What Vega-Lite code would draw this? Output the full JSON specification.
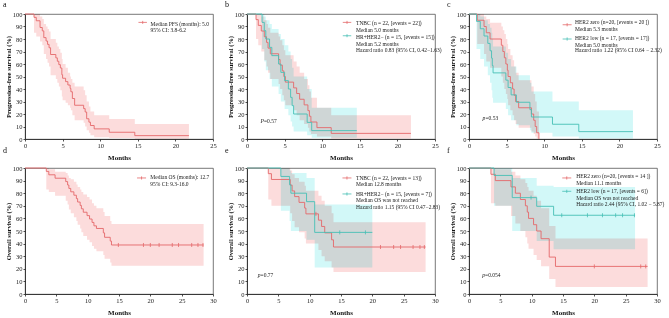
{
"$schema": "https://vega.github.io/schema/vega-lite/v6.json",
"padding": {"left": 2, "top": 0, "right": 0, "bottom": 0},
"config": {
 "font": "Liberation Serif",
 "view": {"stroke": "#555", "strokeWidth": 0.8},
 "axis": {"domainColor": "#222", "tickColor": "#222", "labelColor": "#222", "titleColor": "#111", "labelFont": "Liberation Serif", "titleFont": "Liberation Serif", "labelFontSize": 6.5, "titleFontSize": 6.5, "grid": false, "tickSize": 2, "labelPadding": 1, "titleFontWeight": "bold", "domainWidth": 0.8, "tickWidth": 0.8, "labelOverlap": false, "labelFlush": false},
 "axisX": {"titlePadding": 5, "titleFontSize": 7},
 "axisY": {"titlePadding": 1},
 "title": {"font": "Liberation Serif", "fontSize": 8, "fontWeight": "normal", "anchor": "start", "frame": "group", "dx": -22, "offset": 2.5, "baseline": "alphabetic", "color": "#111"},
 "text": {"font": "Liberation Serif", "fontSize": 5.5, "color": "#222", "align": "left", "baseline": "middle", "lineHeight": 6.8}
},
"datasets": {
 "km": [
  {"p":"a","g":"all","t":0,"s":100,"lo":100,"hi":100},
  {"p":"a","g":"all","t":1.2,"s":97.3,"lo":85,"hi":100},
  {"p":"a","g":"all","t":1.5,"s":94.6,"lo":82,"hi":100},
  {"p":"a","g":"all","t":2.0,"s":89.2,"lo":78,"hi":98},
  {"p":"a","g":"all","t":2.3,"s":86.5,"lo":75,"hi":96},
  {"p":"a","g":"all","t":2.5,"s":81.1,"lo":68,"hi":92},
  {"p":"a","g":"all","t":2.8,"s":78.4,"lo":64,"hi":90},
  {"p":"a","g":"all","t":3.0,"s":75.7,"lo":61,"hi":88},
  {"p":"a","g":"all","t":3.2,"s":73.0,"lo":58,"hi":86},
  {"p":"a","g":"all","t":3.4,"s":67.6,"lo":51,"hi":80},
  {"p":"a","g":"all","t":4.1,"s":64.9,"lo":48,"hi":77},
  {"p":"a","g":"all","t":4.3,"s":62.2,"lo":45,"hi":74},
  {"p":"a","g":"all","t":4.5,"s":59.5,"lo":42,"hi":72},
  {"p":"a","g":"all","t":4.7,"s":56.8,"lo":39,"hi":69},
  {"p":"a","g":"all","t":4.9,"s":51.4,"lo":34,"hi":64},
  {"p":"a","g":"all","t":5.0,"s":48.6,"lo":31,"hi":60},
  {"p":"a","g":"all","t":5.4,"s":45.9,"lo":29,"hi":57},
  {"p":"a","g":"all","t":5.7,"s":43.2,"lo":27,"hi":53},
  {"p":"a","g":"all","t":6.0,"s":40.5,"lo":25,"hi":50},
  {"p":"a","g":"all","t":6.1,"s":37.8,"lo":23,"hi":48},
  {"p":"a","g":"all","t":6.3,"s":32.4,"lo":19,"hi":45},
  {"p":"a","g":"all","t":6.6,"s":27.0,"lo":15,"hi":42},
  {"p":"a","g":"all","t":7.8,"s":24.3,"lo":13,"hi":39},
  {"p":"a","g":"all","t":8.0,"s":21.6,"lo":10,"hi":35},
  {"p":"a","g":"all","t":8.2,"s":16.2,"lo":7,"hi":30},
  {"p":"a","g":"all","t":8.5,"s":13.5,"lo":5,"hi":26},
  {"p":"a","g":"all","t":8.7,"s":10.8,"lo":3,"hi":22},
  {"p":"a","g":"all","t":9.2,"s":8.1,"lo":1.5,"hi":19},
  {"p":"a","g":"all","t":11.2,"s":5.4,"lo":0.8,"hi":16},
  {"p":"a","g":"all","t":14.6,"s":2.7,"lo":0.3,"hi":12},
  {"p":"a","g":"all","t":21.8,"s":2.7,"lo":0.3,"hi":12},

  {"p":"b","g":"TNBC","t":0,"s":100,"lo":100,"hi":100},
  {"p":"b","g":"TNBC","t":1.2,"s":95.5,"lo":80,"hi":100},
  {"p":"b","g":"TNBC","t":1.5,"s":90.9,"lo":75,"hi":100},
  {"p":"b","g":"TNBC","t":1.9,"s":86.4,"lo":70,"hi":98},
  {"p":"b","g":"TNBC","t":2.3,"s":81.8,"lo":63,"hi":95},
  {"p":"b","g":"TNBC","t":2.6,"s":77.3,"lo":58,"hi":92},
  {"p":"b","g":"TNBC","t":2.8,"s":72.7,"lo":53,"hi":89},
  {"p":"b","g":"TNBC","t":3.1,"s":68.2,"lo":48,"hi":85},
  {"p":"b","g":"TNBC","t":4.2,"s":63.6,"lo":44,"hi":82},
  {"p":"b","g":"TNBC","t":4.4,"s":59.1,"lo":40,"hi":79},
  {"p":"b","g":"TNBC","t":4.7,"s":54.5,"lo":35,"hi":75},
  {"p":"b","g":"TNBC","t":4.9,"s":50.0,"lo":31,"hi":71},
  {"p":"b","g":"TNBC","t":5.1,"s":45.5,"lo":27,"hi":67},
  {"p":"b","g":"TNBC","t":6.2,"s":40.9,"lo":23,"hi":62},
  {"p":"b","g":"TNBC","t":6.6,"s":36.4,"lo":19,"hi":58},
  {"p":"b","g":"TNBC","t":7.0,"s":31.8,"lo":15,"hi":53},
  {"p":"b","g":"TNBC","t":7.6,"s":27.3,"lo":12,"hi":48},
  {"p":"b","g":"TNBC","t":8.1,"s":22.7,"lo":9,"hi":43},
  {"p":"b","g":"TNBC","t":8.3,"s":18.2,"lo":6,"hi":38},
  {"p":"b","g":"TNBC","t":8.5,"s":13.6,"lo":4,"hi":33},
  {"p":"b","g":"TNBC","t":9.3,"s":9.1,"lo":2,"hi":25},
  {"p":"b","g":"TNBC","t":11.2,"s":4.5,"lo":0.5,"hi":19},
  {"p":"b","g":"TNBC","t":21.8,"s":4.5,"lo":0.5,"hi":19},
  {"p":"b","g":"HR","t":0,"s":100,"lo":100,"hi":100},
  {"p":"b","g":"HR","t":2.0,"s":93.3,"lo":72,"hi":100},
  {"p":"b","g":"HR","t":2.3,"s":86.7,"lo":62,"hi":98},
  {"p":"b","g":"HR","t":2.5,"s":80.0,"lo":55,"hi":95},
  {"p":"b","g":"HR","t":3.0,"s":73.3,"lo":48,"hi":92},
  {"p":"b","g":"HR","t":3.3,"s":66.7,"lo":42,"hi":88},
  {"p":"b","g":"HR","t":4.2,"s":60.0,"lo":36,"hi":84},
  {"p":"b","g":"HR","t":4.5,"s":53.3,"lo":30,"hi":80},
  {"p":"b","g":"HR","t":5.0,"s":46.7,"lo":24,"hi":75},
  {"p":"b","g":"HR","t":5.5,"s":40.0,"lo":19,"hi":70},
  {"p":"b","g":"HR","t":5.8,"s":33.3,"lo":14,"hi":64},
  {"p":"b","g":"HR","t":6.0,"s":26.7,"lo":10,"hi":57},
  {"p":"b","g":"HR","t":6.2,"s":20.0,"lo":6,"hi":50},
  {"p":"b","g":"HR","t":8.0,"s":13.3,"lo":3,"hi":40},
  {"p":"b","g":"HR","t":8.6,"s":6.7,"lo":1,"hi":25},
  {"p":"b","g":"HR","t":14.6,"s":6.7,"lo":1,"hi":25},

  {"p":"c","g":"Z","t":0,"s":100,"lo":100,"hi":100},
  {"p":"c","g":"Z","t":1.1,"s":95,"lo":76,"hi":100},
  {"p":"c","g":"Z","t":2.0,"s":90,"lo":68,"hi":98},
  {"p":"c","g":"Z","t":2.3,"s":85,"lo":62,"hi":96},
  {"p":"c","g":"Z","t":2.8,"s":80,"lo":57,"hi":93},
  {"p":"c","g":"Z","t":4.3,"s":75,"lo":50,"hi":90},
  {"p":"c","g":"Z","t":4.5,"s":70,"lo":45,"hi":87},
  {"p":"c","g":"Z","t":4.7,"s":65,"lo":40,"hi":84},
  {"p":"c","g":"Z","t":4.9,"s":60,"lo":36,"hi":80},
  {"p":"c","g":"Z","t":5.1,"s":55,"lo":32,"hi":76},
  {"p":"c","g":"Z","t":5.2,"s":50,"lo":27,"hi":72},
  {"p":"c","g":"Z","t":5.5,"s":45,"lo":23,"hi":67},
  {"p":"c","g":"Z","t":5.8,"s":40,"lo":19,"hi":63},
  {"p":"c","g":"Z","t":6.0,"s":35,"lo":15,"hi":58},
  {"p":"c","g":"Z","t":6.2,"s":30,"lo":12,"hi":53},
  {"p":"c","g":"Z","t":6.6,"s":25,"lo":9,"hi":47},
  {"p":"c","g":"Z","t":8.3,"s":20,"lo":6,"hi":42},
  {"p":"c","g":"Z","t":8.6,"s":15,"lo":4,"hi":36},
  {"p":"c","g":"Z","t":8.8,"s":10,"lo":2,"hi":30},
  {"p":"c","g":"Z","t":9.0,"s":5,"lo":0.5,"hi":22},
  {"p":"c","g":"Z","t":9.3,"s":0,"lo":0,"hi":0},
  {"p":"c","g":"L","t":0,"s":100,"lo":100,"hi":100},
  {"p":"c","g":"L","t":1.0,"s":94.1,"lo":72,"hi":100},
  {"p":"c","g":"L","t":1.5,"s":88.2,"lo":64,"hi":98},
  {"p":"c","g":"L","t":2.0,"s":82.4,"lo":58,"hi":95},
  {"p":"c","g":"L","t":2.5,"s":76.5,"lo":51,"hi":92},
  {"p":"c","g":"L","t":2.8,"s":70.6,"lo":45,"hi":89},
  {"p":"c","g":"L","t":3.0,"s":64.7,"lo":39,"hi":85},
  {"p":"c","g":"L","t":3.1,"s":58.8,"lo":33,"hi":80},
  {"p":"c","g":"L","t":3.2,"s":52.9,"lo":29,"hi":74},
  {"p":"c","g":"L","t":4.9,"s":47.1,"lo":24,"hi":69},
  {"p":"c","g":"L","t":5.2,"s":41.2,"lo":19,"hi":64},
  {"p":"c","g":"L","t":5.6,"s":35.3,"lo":15,"hi":58},
  {"p":"c","g":"L","t":6.3,"s":29.4,"lo":11,"hi":51},
  {"p":"c","g":"L","t":8.1,"s":23.5,"lo":7,"hi":45},
  {"p":"c","g":"L","t":8.3,"s":17.6,"lo":5,"hi":38},
  {"p":"c","g":"L","t":11.1,"s":11.8,"lo":2,"hi":30},
  {"p":"c","g":"L","t":14.6,"s":5.9,"lo":0.5,"hi":23},
  {"p":"c","g":"L","t":21.8,"s":5.9,"lo":0.5,"hi":23},

  {"p":"d","g":"all","t":0,"s":100,"lo":100,"hi":100},
  {"p":"d","g":"all","t":3.4,"s":97.3,"lo":83,"hi":100},
  {"p":"d","g":"all","t":3.8,"s":94.6,"lo":81,"hi":99},
  {"p":"d","g":"all","t":4.8,"s":91.9,"lo":78,"hi":97},
  {"p":"d","g":"all","t":6.5,"s":89.2,"lo":74,"hi":96},
  {"p":"d","g":"all","t":6.8,"s":86.5,"lo":71,"hi":94},
  {"p":"d","g":"all","t":7.0,"s":83.8,"lo":67,"hi":92},
  {"p":"d","g":"all","t":7.3,"s":81.1,"lo":64,"hi":91},
  {"p":"d","g":"all","t":7.8,"s":78.4,"lo":61,"hi":89},
  {"p":"d","g":"all","t":8.2,"s":75.7,"lo":58,"hi":87},
  {"p":"d","g":"all","t":8.4,"s":73.0,"lo":55,"hi":85},
  {"p":"d","g":"all","t":8.8,"s":70.3,"lo":52,"hi":83},
  {"p":"d","g":"all","t":9.0,"s":67.6,"lo":49,"hi":81},
  {"p":"d","g":"all","t":9.3,"s":64.9,"lo":46,"hi":79},
  {"p":"d","g":"all","t":9.9,"s":62.2,"lo":43,"hi":77},
  {"p":"d","g":"all","t":10.3,"s":59.5,"lo":41,"hi":75},
  {"p":"d","g":"all","t":10.7,"s":56.8,"lo":38,"hi":72},
  {"p":"d","g":"all","t":11.0,"s":54.1,"lo":36,"hi":70},
  {"p":"d","g":"all","t":11.4,"s":52.0,"lo":34,"hi":68},
  {"p":"d","g":"all","t":12.5,"s":48.5,"lo":31,"hi":65},
  {"p":"d","g":"all","t":12.7,"s":45.0,"lo":28,"hi":62},
  {"p":"d","g":"all","t":13.6,"s":42.0,"lo":25,"hi":58},
  {"p":"d","g":"all","t":13.8,"s":38.9,"lo":22.5,"hi":55.5},
  {"p":"d","g":"all","t":28.5,"s":38.9,"lo":22.5,"hi":55.5},

  {"p":"e","g":"TNBC","t":0,"s":100,"lo":100,"hi":100},
  {"p":"e","g":"TNBC","t":3.4,"s":95.5,"lo":75,"hi":100},
  {"p":"e","g":"TNBC","t":3.9,"s":90.9,"lo":70,"hi":100},
  {"p":"e","g":"TNBC","t":6.9,"s":86.4,"lo":64,"hi":98},
  {"p":"e","g":"TNBC","t":7.2,"s":81.8,"lo":58,"hi":95},
  {"p":"e","g":"TNBC","t":7.6,"s":77.3,"lo":53,"hi":92},
  {"p":"e","g":"TNBC","t":8.3,"s":72.7,"lo":49,"hi":89},
  {"p":"e","g":"TNBC","t":9.2,"s":68.2,"lo":44,"hi":86},
  {"p":"e","g":"TNBC","t":9.4,"s":63.6,"lo":40,"hi":82},
  {"p":"e","g":"TNBC","t":11.4,"s":58.6,"lo":35,"hi":78},
  {"p":"e","g":"TNBC","t":11.9,"s":53.6,"lo":30,"hi":74},
  {"p":"e","g":"TNBC","t":12.4,"s":48.5,"lo":26,"hi":70},
  {"p":"e","g":"TNBC","t":13.5,"s":43.0,"lo":21,"hi":64},
  {"p":"e","g":"TNBC","t":13.8,"s":37.3,"lo":17.5,"hi":57},
  {"p":"e","g":"TNBC","t":28.5,"s":37.3,"lo":17.5,"hi":57},
  {"p":"e","g":"HR","t":0,"s":100,"lo":100,"hi":100},
  {"p":"e","g":"HR","t":5.4,"s":93.3,"lo":66,"hi":100},
  {"p":"e","g":"HR","t":6.8,"s":86.7,"lo":58,"hi":98},
  {"p":"e","g":"HR","t":7.0,"s":80.0,"lo":50,"hi":96},
  {"p":"e","g":"HR","t":9.5,"s":73.3,"lo":43,"hi":92},
  {"p":"e","g":"HR","t":10.8,"s":48.9,"lo":21,"hi":71},
  {"p":"e","g":"HR","t":20.0,"s":48.9,"lo":21,"hi":71},

  {"p":"f","g":"Z","t":0,"s":100,"lo":100,"hi":100},
  {"p":"f","g":"Z","t":3.5,"s":95,"lo":72,"hi":100},
  {"p":"f","g":"Z","t":4.2,"s":90,"lo":70,"hi":99},
  {"p":"f","g":"Z","t":6.7,"s":85,"lo":62,"hi":97},
  {"p":"f","g":"Z","t":7.4,"s":80,"lo":56,"hi":94},
  {"p":"f","g":"Z","t":8.2,"s":75,"lo":50,"hi":91},
  {"p":"f","g":"Z","t":9.0,"s":70,"lo":45,"hi":88},
  {"p":"f","g":"Z","t":9.3,"s":65,"lo":40,"hi":85},
  {"p":"f","g":"Z","t":9.5,"s":60,"lo":36,"hi":82},
  {"p":"f","g":"Z","t":10.3,"s":55,"lo":31,"hi":78},
  {"p":"f","g":"Z","t":10.8,"s":50,"lo":27,"hi":74},
  {"p":"f","g":"Z","t":11.5,"s":43.9,"lo":22,"hi":68},
  {"p":"f","g":"Z","t":12.8,"s":29.3,"lo":12,"hi":54},
  {"p":"f","g":"Z","t":13.8,"s":21.9,"lo":5.5,"hi":44},
  {"p":"f","g":"Z","t":28.5,"s":21.9,"lo":5.5,"hi":44},
  {"p":"f","g":"L","t":0,"s":100,"lo":100,"hi":100},
  {"p":"f","g":"L","t":4.0,"s":94.1,"lo":70,"hi":100},
  {"p":"f","g":"L","t":6.9,"s":76.5,"lo":50,"hi":92},
  {"p":"f","g":"L","t":10.8,"s":69.6,"lo":42,"hi":86},
  {"p":"f","g":"L","t":13.5,"s":62.5,"lo":35.5,"hi":85},
  {"p":"f","g":"L","t":26.5,"s":62.5,"lo":35.5,"hi":85}
 ],
 "cens": [
  {"p":"d","g":"all","t":14.9,"s":38.9},{"p":"d","g":"all","t":18.9,"s":38.9},{"p":"d","g":"all","t":20.0,"s":38.9},{"p":"d","g":"all","t":21.4,"s":38.9},{"p":"d","g":"all","t":23.5,"s":38.9},{"p":"d","g":"all","t":24.5,"s":38.9},{"p":"d","g":"all","t":26.6,"s":38.9},{"p":"d","g":"all","t":27.6,"s":38.9},{"p":"d","g":"all","t":28.4,"s":38.9},
  {"p":"e","g":"TNBC","t":11.0,"s":63.6},{"p":"e","g":"TNBC","t":21.3,"s":37.3},{"p":"e","g":"TNBC","t":23.4,"s":37.3},{"p":"e","g":"TNBC","t":24.5,"s":37.3},{"p":"e","g":"TNBC","t":26.5,"s":37.3},{"p":"e","g":"TNBC","t":27.6,"s":37.3},{"p":"e","g":"TNBC","t":28.3,"s":37.3},
  {"p":"e","g":"HR","t":14.8,"s":48.9},{"p":"e","g":"HR","t":18.9,"s":48.9},
  {"p":"f","g":"Z","t":20.0,"s":21.9},{"p":"f","g":"Z","t":27.4,"s":21.9},{"p":"f","g":"Z","t":28.2,"s":21.9},
  {"p":"f","g":"L","t":9.9,"s":76.5},{"p":"f","g":"L","t":14.8,"s":62.5},{"p":"f","g":"L","t":18.9,"s":62.5},{"p":"f","g":"L","t":21.3,"s":62.5},{"p":"f","g":"L","t":23.4,"s":62.5},{"p":"f","g":"L","t":24.5,"s":62.5},{"p":"f","g":"L","t":26.4,"s":62.5}
 ]
},
"columns": 3,
"spacing": {"row": 29, "column": 34},
"bounds": "flush",
"concat": [
 {"title": "a", "width": 188, "height": 125, "layer": [
  {"data": {"name": "km"}, "transform": [{"filter": "datum.p === 'a'"}], "mark": {"type": "area", "interpolate": "step-after", "blend": "multiply", "opacity": 1},
   "encoding": {"x": {"field": "t", "type": "quantitative", "scale": {"domain": [0, 25], "nice": false}, "axis": {"values": [0,5,10,15,20,25], "labelOverlap": false}, "title": "Months"},
    "y": {"field": "lo", "type": "quantitative", "scale": {"domain": [0, 100], "nice": false}, "axis": {"values": [0,10,20,30,40,50,60,70,80,90,100], "labelOverlap": false}, "title": "Progression-free survival (%)"},
    "y2": {"field": "hi"},
    "fill": {"field": "g", "type": "nominal", "scale": {"domain": ["all","TNBC","HR","Z","L"], "range": ["#fcdcdc","#fcdcdc","#d2f8f8","#fcdcdc","#d2f8f8"]}, "legend": null}}},
  {"data": {"name": "km"}, "transform": [{"filter": "datum.p === 'a'"}], "mark": {"type": "line", "interpolate": "step-after", "strokeWidth": 0.9},
   "encoding": {"x": {"field": "t", "type": "quantitative", "axis": {"values": [0,5,10,15,20,25], "labelOverlap": false}, "title": "Months"}, "y": {"field": "s", "type": "quantitative", "axis": {"values": [0,10,20,30,40,50,60,70,80,90,100], "labelOverlap": false}, "title": "Progression-free survival (%)"},
    "stroke": {"field": "g", "type": "nominal", "scale": {"domain": ["all","TNBC","HR","Z","L"], "range": ["#e4686a","#e4686a","#46bfb5","#e4686a","#46bfb5"]}, "legend": null}}},
  {"data": {"values": [{}]}, "mark": {"type": "point", "shape": "M-1,0L1,0M0,-0.35L0,0.35", "size": 72, "filled": false, "stroke": "#e4686a", "strokeWidth": 0.8, "opacity": 1}, "encoding": {"x": {"datum": 15.65, "axis": {"values": [0,5,10,15,20,25], "labelOverlap": false}, "title": "Months"}, "y": {"datum": 93.3, "axis": {"values": [0,10,20,30,40,50,60,70,80,90,100], "labelOverlap": false}, "title": "Progression-free survival (%)"}}},
  {"data": {"values": [{}]}, "mark": {"type": "text"}, "encoding": {"x": {"datum": 16.7, "axis": {"values": [0,5,10,15,20,25], "labelOverlap": false}, "title": "Months"}, "y": {"datum": 92.3, "axis": {"values": [0,10,20,30,40,50,60,70,80,90,100], "labelOverlap": false}, "title": "Progression-free survival (%)"}, "text": {"value": ["Median PFS (months): 5.0", "95% CI: 3.8-6.2"]}}}
 ]},
 {"title": "b", "width": 188, "height": 125, "layer": [
  {"data": {"name": "km"}, "transform": [{"filter": "datum.p === 'b'"}], "mark": {"type": "area", "interpolate": "step-after", "blend": "multiply", "opacity": 1},
   "encoding": {"x": {"field": "t", "type": "quantitative", "scale": {"domain": [0, 25], "nice": false}, "axis": {"values": [0,5,10,15,20,25], "labelOverlap": false}, "title": "Months"},
    "y": {"field": "lo", "type": "quantitative", "scale": {"domain": [0, 100], "nice": false}, "axis": {"values": [0,10,20,30,40,50,60,70,80,90,100], "labelOverlap": false}, "title": "Progression-free  survival (%)"},
    "y2": {"field": "hi"},
    "fill": {"field": "g", "type": "nominal", "scale": {"domain": ["all","TNBC","HR","Z","L"], "range": ["#fcdcdc","#fcdcdc","#d2f8f8","#fcdcdc","#d2f8f8"]}, "legend": null}}},
  {"data": {"name": "km"}, "transform": [{"filter": "datum.p === 'b'"}], "mark": {"type": "line", "interpolate": "step-after", "strokeWidth": 0.9},
   "encoding": {"x": {"field": "t", "type": "quantitative", "axis": {"values": [0,5,10,15,20,25], "labelOverlap": false}, "title": "Months"}, "y": {"field": "s", "type": "quantitative", "axis": {"values": [0,10,20,30,40,50,60,70,80,90,100], "labelOverlap": false}, "title": "Progression-free  survival (%)"},
    "stroke": {"field": "g", "type": "nominal", "scale": {"domain": ["all","TNBC","HR","Z","L"], "range": ["#e4686a","#e4686a","#46bfb5","#e4686a","#46bfb5"]}, "legend": null}}},
  {"data": {"values": [{}]}, "mark": {"type": "point", "shape": "M-1,0L1,0M0,-0.35L0,0.35", "size": 72, "filled": false, "stroke": "#e4686a", "strokeWidth": 0.8, "opacity": 1}, "encoding": {"x": {"datum": 13.3, "axis": {"values": [0,5,10,15,20,25], "labelOverlap": false}, "title": "Months"}, "y": {"datum": 93.3, "axis": {"values": [0,10,20,30,40,50,60,70,80,90,100], "labelOverlap": false}, "title": "Progression-free  survival (%)"}}},
  {"data": {"values": [{}]}, "mark": {"type": "point", "shape": "M-1,0L1,0M0,-0.35L0,0.35", "size": 72, "filled": false, "stroke": "#46bfb5", "strokeWidth": 0.8, "opacity": 1}, "encoding": {"x": {"datum": 13.3, "axis": {"values": [0,5,10,15,20,25], "labelOverlap": false}, "title": "Months"}, "y": {"datum": 82.6, "axis": {"values": [0,10,20,30,40,50,60,70,80,90,100], "labelOverlap": false}, "title": "Progression-free  survival (%)"}}},
  {"data": {"values": [{}]}, "mark": {"type": "text"}, "encoding": {"x": {"datum": 14.5, "axis": {"values": [0,5,10,15,20,25], "labelOverlap": false}, "title": "Months"}, "y": {"datum": 92.9, "axis": {"values": [0,10,20,30,40,50,60,70,80,90,100], "labelOverlap": false}, "title": "Progression-free  survival (%)"}, "text": {"value": ["TNBC (n = 22, [events = 22])", "Median 5.0 months"]}}},
  {"data": {"values": [{}]}, "mark": {"type": "text"}, "encoding": {"x": {"datum": 14.5, "axis": {"values": [0,5,10,15,20,25], "labelOverlap": false}, "title": "Months"}, "y": {"datum": 81.4, "axis": {"values": [0,10,20,30,40,50,60,70,80,90,100], "labelOverlap": false}, "title": "Progression-free  survival (%)"}, "text": {"value": ["HR+HER2− (n = 15, [events = 15])", "Median 5.2 months"]}}},
  {"data": {"values": [{}]}, "mark": {"type": "text"}, "encoding": {"x": {"datum": 14.5, "axis": {"values": [0,5,10,15,20,25], "labelOverlap": false}, "title": "Months"}, "y": {"datum": 70.9, "axis": {"values": [0,10,20,30,40,50,60,70,80,90,100], "labelOverlap": false}, "title": "Progression-free  survival (%)"}, "text": {"value": "Hazard ratio 0.83 (95% CI, 0.42−1.63)"}}},
  {"data": {"values": [{}]}, "mark": {"type": "text", "fontStyle": "italic"}, "encoding": {"x": {"datum": 1.8, "axis": {"values": [0,5,10,15,20,25], "labelOverlap": false}, "title": "Months"}, "y": {"datum": 14.1, "axis": {"values": [0,10,20,30,40,50,60,70,80,90,100], "labelOverlap": false}, "title": "Progression-free  survival (%)"}, "text": {"value": "P"}}},
  {"data": {"values": [{}]}, "mark": {"type": "text", "dx": 3.4}, "encoding": {"x": {"datum": 1.8, "axis": {"values": [0,5,10,15,20,25], "labelOverlap": false}, "title": "Months"}, "y": {"datum": 14.1, "axis": {"values": [0,10,20,30,40,50,60,70,80,90,100], "labelOverlap": false}, "title": "Progression-free  survival (%)"}, "text": {"value": "=0.57"}}}
 ]},
 {"title": "c", "width": 188, "height": 125, "layer": [
  {"data": {"name": "km"}, "transform": [{"filter": "datum.p === 'c'"}], "mark": {"type": "area", "interpolate": "step-after", "blend": "multiply", "opacity": 1},
   "encoding": {"x": {"field": "t", "type": "quantitative", "scale": {"domain": [0, 25], "nice": false}, "axis": {"values": [0,5,10,15,20,25], "labelOverlap": false}, "title": "Months"},
    "y": {"field": "lo", "type": "quantitative", "scale": {"domain": [0, 100], "nice": false}, "axis": {"values": [0,10,20,30,40,50,60,70,80,90,100], "labelOverlap": false}, "title": "Progression-free  survival (%)"},
    "y2": {"field": "hi"},
    "fill": {"field": "g", "type": "nominal", "scale": {"domain": ["all","TNBC","HR","Z","L"], "range": ["#fcdcdc","#fcdcdc","#d2f8f8","#fcdcdc","#d2f8f8"]}, "legend": null}}},
  {"data": {"name": "km"}, "transform": [{"filter": "datum.p === 'c'"}], "mark": {"type": "line", "interpolate": "step-after", "strokeWidth": 0.9},
   "encoding": {"x": {"field": "t", "type": "quantitative", "axis": {"values": [0,5,10,15,20,25], "labelOverlap": false}, "title": "Months"}, "y": {"field": "s", "type": "quantitative", "axis": {"values": [0,10,20,30,40,50,60,70,80,90,100], "labelOverlap": false}, "title": "Progression-free  survival (%)"},
    "stroke": {"field": "g", "type": "nominal", "scale": {"domain": ["all","TNBC","HR","Z","L"], "range": ["#e4686a","#e4686a","#46bfb5","#e4686a","#46bfb5"]}, "legend": null}}},
  {"data": {"values": [{}]}, "mark": {"type": "point", "shape": "M-1,0L1,0M0,-0.35L0,0.35", "size": 81, "filled": false, "stroke": "#e4686a", "strokeWidth": 0.8, "opacity": 1}, "encoding": {"x": {"datum": 13.05, "axis": {"values": [0,5,10,15,20,25], "labelOverlap": false}, "title": "Months"}, "y": {"datum": 91.4, "axis": {"values": [0,10,20,30,40,50,60,70,80,90,100], "labelOverlap": false}, "title": "Progression-free  survival (%)"}}},
  {"data": {"values": [{}]}, "mark": {"type": "point", "shape": "M-1,0L1,0M0,-0.35L0,0.35", "size": 81, "filled": false, "stroke": "#46bfb5", "strokeWidth": 0.8, "opacity": 1}, "encoding": {"x": {"datum": 13.05, "axis": {"values": [0,5,10,15,20,25], "labelOverlap": false}, "title": "Months"}, "y": {"datum": 80, "axis": {"values": [0,10,20,30,40,50,60,70,80,90,100], "labelOverlap": false}, "title": "Progression-free  survival (%)"}}},
  {"data": {"values": [{}]}, "mark": {"type": "text"}, "encoding": {"x": {"datum": 14.1, "axis": {"values": [0,5,10,15,20,25], "labelOverlap": false}, "title": "Months"}, "y": {"datum": 93.3, "axis": {"values": [0,10,20,30,40,50,60,70,80,90,100], "labelOverlap": false}, "title": "Progression-free  survival (%)"}, "text": {"value": ["HER2 zero (n=20, [events = 20 ])", "Median 5.3 months"]}}},
  {"data": {"values": [{}]}, "mark": {"type": "text"}, "encoding": {"x": {"datum": 14.1, "axis": {"values": [0,5,10,15,20,25], "labelOverlap": false}, "title": "Months"}, "y": {"datum": 81, "axis": {"values": [0,10,20,30,40,50,60,70,80,90,100], "labelOverlap": false}, "title": "Progression-free  survival (%)"}, "text": {"value": ["HER2 low (n = 17, [events = 17])", "Median 5.0 months"]}}},
  {"data": {"values": [{}]}, "mark": {"type": "text"}, "encoding": {"x": {"datum": 14.1, "axis": {"values": [0,5,10,15,20,25], "labelOverlap": false}, "title": "Months"}, "y": {"datum": 70.9, "axis": {"values": [0,10,20,30,40,50,60,70,80,90,100], "labelOverlap": false}, "title": "Progression-free  survival (%)"}, "text": {"value": "Hazard ratio 1.22 (95% CI 0.64 − 2.32)"}}},
  {"data": {"values": [{}]}, "mark": {"type": "text", "fontStyle": "italic"}, "encoding": {"x": {"datum": 1.8, "axis": {"values": [0,5,10,15,20,25], "labelOverlap": false}, "title": "Months"}, "y": {"datum": 16.8, "axis": {"values": [0,10,20,30,40,50,60,70,80,90,100], "labelOverlap": false}, "title": "Progression-free  survival (%)"}, "text": {"value": "p"}}},
  {"data": {"values": [{}]}, "mark": {"type": "text", "dx": 2.9}, "encoding": {"x": {"datum": 1.8, "axis": {"values": [0,5,10,15,20,25], "labelOverlap": false}, "title": "Months"}, "y": {"datum": 16.8, "axis": {"values": [0,10,20,30,40,50,60,70,80,90,100], "labelOverlap": false}, "title": "Progression-free  survival (%)"}, "text": {"value": "=0.53"}}}
 ]},
 {"title": {"text": "d", "offset": 10.5}, "width": 188, "height": 126, "layer": [
  {"data": {"name": "km"}, "transform": [{"filter": "datum.p === 'd'"}], "mark": {"type": "area", "interpolate": "step-after", "blend": "multiply", "opacity": 1},
   "encoding": {"x": {"field": "t", "type": "quantitative", "scale": {"domain": [0, 30], "nice": false}, "axis": {"values": [0,5,10,15,20,25,30], "labelOverlap": false}, "title": "Months"},
    "y": {"field": "lo", "type": "quantitative", "scale": {"domain": [0, 100], "nice": false}, "axis": {"values": [0,10,20,30,40,50,60,70,80,90,100], "labelOverlap": false}, "title": "Overall survival (%)"},
    "y2": {"field": "hi"},
    "fill": {"field": "g", "type": "nominal", "scale": {"domain": ["all","TNBC","HR","Z","L"], "range": ["#fcdcdc","#fcdcdc","#d2f8f8","#fcdcdc","#d2f8f8"]}, "legend": null}}},
  {"data": {"name": "km"}, "transform": [{"filter": "datum.p === 'd'"}], "mark": {"type": "line", "interpolate": "step-after", "strokeWidth": 0.9},
   "encoding": {"x": {"field": "t", "type": "quantitative", "axis": {"values": [0,5,10,15,20,25,30], "labelOverlap": false}, "title": "Months"}, "y": {"field": "s", "type": "quantitative", "axis": {"values": [0,10,20,30,40,50,60,70,80,90,100], "labelOverlap": false}, "title": "Overall survival (%)"},
    "stroke": {"field": "g", "type": "nominal", "scale": {"domain": ["all","TNBC","HR","Z","L"], "range": ["#e4686a","#e4686a","#46bfb5","#e4686a","#46bfb5"]}, "legend": null}}},
  {"data": {"name": "cens"}, "transform": [{"filter": "datum.p === 'd'"}], "mark": {"type": "point", "shape": "M0,-1L0,1", "size": 16, "filled": false, "strokeWidth": 0.8, "opacity": 1},
   "encoding": {"x": {"field": "t", "type": "quantitative", "axis": {"values": [0,5,10,15,20,25,30], "labelOverlap": false}, "title": "Months"}, "y": {"field": "s", "type": "quantitative", "axis": {"values": [0,10,20,30,40,50,60,70,80,90,100], "labelOverlap": false}, "title": "Overall survival (%)"},
    "stroke": {"field": "g", "type": "nominal", "scale": {"domain": ["all","TNBC","HR","Z","L"], "range": ["#e4686a","#e4686a","#46bfb5","#e4686a","#46bfb5"]}, "legend": null}}},
  {"data": {"values": [{}]}, "mark": {"type": "point", "shape": "M-1,0L1,0M0,-0.35L0,0.35", "size": 81, "filled": false, "stroke": "#e4686a", "strokeWidth": 0.8, "opacity": 1}, "encoding": {"x": {"datum": 18.6, "axis": {"values": [0,5,10,15,20,25,30], "labelOverlap": false}, "title": "Months"}, "y": {"datum": 92.1, "axis": {"values": [0,10,20,30,40,50,60,70,80,90,100], "labelOverlap": false}, "title": "Overall survival (%)"}}},
  {"data": {"values": [{}]}, "mark": {"type": "text"}, "encoding": {"x": {"datum": 20.0, "axis": {"values": [0,5,10,15,20,25,30], "labelOverlap": false}, "title": "Months"}, "y": {"datum": 92.85, "axis": {"values": [0,10,20,30,40,50,60,70,80,90,100], "labelOverlap": false}, "title": "Overall survival (%)"}, "text": {"value": ["Median OS (months): 12.7", "95% CI: 9.3-16.0"]}}}
 ]},
 {"title": {"text": "e", "offset": 10.5}, "width": 188, "height": 126, "layer": [
  {"data": {"name": "km"}, "transform": [{"filter": "datum.p === 'e'"}], "mark": {"type": "area", "interpolate": "step-after", "blend": "multiply", "opacity": 1},
   "encoding": {"x": {"field": "t", "type": "quantitative", "scale": {"domain": [0, 30], "nice": false}, "axis": {"values": [0,5,10,15,20,25,30], "labelOverlap": false}, "title": "Months"},
    "y": {"field": "lo", "type": "quantitative", "scale": {"domain": [0, 100], "nice": false}, "axis": {"values": [0,10,20,30,40,50,60,70,80,90,100], "labelOverlap": false}, "title": "Overall survival (%)"},
    "y2": {"field": "hi"},
    "fill": {"field": "g", "type": "nominal", "scale": {"domain": ["all","TNBC","HR","Z","L"], "range": ["#fcdcdc","#fcdcdc","#d2f8f8","#fcdcdc","#d2f8f8"]}, "legend": null}}},
  {"data": {"name": "km"}, "transform": [{"filter": "datum.p === 'e'"}], "mark": {"type": "line", "interpolate": "step-after", "strokeWidth": 0.9},
   "encoding": {"x": {"field": "t", "type": "quantitative", "axis": {"values": [0,5,10,15,20,25,30], "labelOverlap": false}, "title": "Months"}, "y": {"field": "s", "type": "quantitative", "axis": {"values": [0,10,20,30,40,50,60,70,80,90,100], "labelOverlap": false}, "title": "Overall survival (%)"},
    "stroke": {"field": "g", "type": "nominal", "scale": {"domain": ["all","TNBC","HR","Z","L"], "range": ["#e4686a","#e4686a","#46bfb5","#e4686a","#46bfb5"]}, "legend": null}}},
  {"data": {"name": "cens"}, "transform": [{"filter": "datum.p === 'e'"}], "mark": {"type": "point", "shape": "M0,-1L0,1", "size": 16, "filled": false, "strokeWidth": 0.8, "opacity": 1},
   "encoding": {"x": {"field": "t", "type": "quantitative", "axis": {"values": [0,5,10,15,20,25,30], "labelOverlap": false}, "title": "Months"}, "y": {"field": "s", "type": "quantitative", "axis": {"values": [0,10,20,30,40,50,60,70,80,90,100], "labelOverlap": false}, "title": "Overall survival (%)"},
    "stroke": {"field": "g", "type": "nominal", "scale": {"domain": ["all","TNBC","HR","Z","L"], "range": ["#e4686a","#e4686a","#46bfb5","#e4686a","#46bfb5"]}, "legend": null}}},
  {"data": {"values": [{}]}, "mark": {"type": "point", "shape": "M-1,0L1,0M0,-0.35L0,0.35", "size": 81, "filled": false, "stroke": "#e4686a", "strokeWidth": 0.8, "opacity": 1}, "encoding": {"x": {"datum": 15.95, "axis": {"values": [0,5,10,15,20,25,30], "labelOverlap": false}, "title": "Months"}, "y": {"datum": 92.1, "axis": {"values": [0,10,20,30,40,50,60,70,80,90,100], "labelOverlap": false}, "title": "Overall survival (%)"}}},
  {"data": {"values": [{}]}, "mark": {"type": "point", "shape": "M-1,0L1,0M0,-0.35L0,0.35", "size": 81, "filled": false, "stroke": "#46bfb5", "strokeWidth": 0.8, "opacity": 1}, "encoding": {"x": {"datum": 15.95, "axis": {"values": [0,5,10,15,20,25,30], "labelOverlap": false}, "title": "Months"}, "y": {"datum": 79.4, "axis": {"values": [0,10,20,30,40,50,60,70,80,90,100], "labelOverlap": false}, "title": "Overall survival (%)"}}},
  {"data": {"values": [{}]}, "mark": {"type": "text"}, "encoding": {"x": {"datum": 17.4, "axis": {"values": [0,5,10,15,20,25,30], "labelOverlap": false}, "title": "Months"}, "y": {"datum": 92.3, "axis": {"values": [0,10,20,30,40,50,60,70,80,90,100], "labelOverlap": false}, "title": "Overall survival (%)"}, "text": {"value": ["TNBC (n = 22, [events = 13])", "Median 12.8 months"]}}},
  {"data": {"values": [{}]}, "mark": {"type": "text"}, "encoding": {"x": {"datum": 17.4, "axis": {"values": [0,5,10,15,20,25,30], "labelOverlap": false}, "title": "Months"}, "y": {"datum": 79.65, "axis": {"values": [0,10,20,30,40,50,60,70,80,90,100], "labelOverlap": false}, "title": "Overall survival (%)"}, "text": {"value": ["HR+HER2− (n = 15, [events = 7])", "Median OS was not reached"]}}},
  {"data": {"values": [{}]}, "mark": {"type": "text"}, "encoding": {"x": {"datum": 17.4, "axis": {"values": [0,5,10,15,20,25,30], "labelOverlap": false}, "title": "Months"}, "y": {"datum": 69.3, "axis": {"values": [0,10,20,30,40,50,60,70,80,90,100], "labelOverlap": false}, "title": "Overall survival (%)"}, "text": {"value": "Hazard ratio 1.15 (95% CI 0.47−2.83)"}}},
  {"data": {"values": [{}]}, "mark": {"type": "text", "fontStyle": "italic"}, "encoding": {"x": {"datum": 1.7, "axis": {"values": [0,5,10,15,20,25,30], "labelOverlap": false}, "title": "Months"}, "y": {"datum": 14.8, "axis": {"values": [0,10,20,30,40,50,60,70,80,90,100], "labelOverlap": false}, "title": "Overall survival (%)"}, "text": {"value": "p"}}},
  {"data": {"values": [{}]}, "mark": {"type": "text", "dx": 2.9}, "encoding": {"x": {"datum": 1.7, "axis": {"values": [0,5,10,15,20,25,30], "labelOverlap": false}, "title": "Months"}, "y": {"datum": 14.8, "axis": {"values": [0,10,20,30,40,50,60,70,80,90,100], "labelOverlap": false}, "title": "Overall survival (%)"}, "text": {"value": "=0.77"}}}
 ]},
 {"title": {"text": "f", "offset": 10.5}, "width": 188, "height": 126, "layer": [
  {"data": {"name": "km"}, "transform": [{"filter": "datum.p === 'f'"}], "mark": {"type": "area", "interpolate": "step-after", "blend": "multiply", "opacity": 1},
   "encoding": {"x": {"field": "t", "type": "quantitative", "scale": {"domain": [0, 30], "nice": false}, "axis": {"values": [0,5,10,15,20,25,30], "labelOverlap": false}, "title": "Months"},
    "y": {"field": "lo", "type": "quantitative", "scale": {"domain": [0, 100], "nice": false}, "axis": {"values": [0,10,20,30,40,50,60,70,80,90,100], "labelOverlap": false}, "title": "Overall  survival (%)"},
    "y2": {"field": "hi"},
    "fill": {"field": "g", "type": "nominal", "scale": {"domain": ["all","TNBC","HR","Z","L"], "range": ["#fcdcdc","#fcdcdc","#d2f8f8","#fcdcdc","#d2f8f8"]}, "legend": null}}},
  {"data": {"name": "km"}, "transform": [{"filter": "datum.p === 'f'"}], "mark": {"type": "line", "interpolate": "step-after", "strokeWidth": 0.9},
   "encoding": {"x": {"field": "t", "type": "quantitative", "axis": {"values": [0,5,10,15,20,25,30], "labelOverlap": false}, "title": "Months"}, "y": {"field": "s", "type": "quantitative", "axis": {"values": [0,10,20,30,40,50,60,70,80,90,100], "labelOverlap": false}, "title": "Overall  survival (%)"},
    "stroke": {"field": "g", "type": "nominal", "scale": {"domain": ["all","TNBC","HR","Z","L"], "range": ["#e4686a","#e4686a","#46bfb5","#e4686a","#46bfb5"]}, "legend": null}}},
  {"data": {"name": "cens"}, "transform": [{"filter": "datum.p === 'f'"}], "mark": {"type": "point", "shape": "M0,-1L0,1", "size": 16, "filled": false, "strokeWidth": 0.8, "opacity": 1},
   "encoding": {"x": {"field": "t", "type": "quantitative", "axis": {"values": [0,5,10,15,20,25,30], "labelOverlap": false}, "title": "Months"}, "y": {"field": "s", "type": "quantitative", "axis": {"values": [0,10,20,30,40,50,60,70,80,90,100], "labelOverlap": false}, "title": "Overall  survival (%)"},
    "stroke": {"field": "g", "type": "nominal", "scale": {"domain": ["all","TNBC","HR","Z","L"], "range": ["#e4686a","#e4686a","#46bfb5","#e4686a","#46bfb5"]}, "legend": null}}},
  {"data": {"values": [{}]}, "mark": {"type": "point", "shape": "M-1,0L1,0M0,-0.35L0,0.35", "size": 81, "filled": false, "stroke": "#e4686a", "strokeWidth": 0.8, "opacity": 1}, "encoding": {"x": {"datum": 15.6, "axis": {"values": [0,5,10,15,20,25,30], "labelOverlap": false}, "title": "Months"}, "y": {"datum": 92.1, "axis": {"values": [0,10,20,30,40,50,60,70,80,90,100], "labelOverlap": false}, "title": "Overall  survival (%)"}}},
  {"data": {"values": [{}]}, "mark": {"type": "point", "shape": "M-1,0L1,0M0,-0.35L0,0.35", "size": 81, "filled": false, "stroke": "#46bfb5", "strokeWidth": 0.8, "opacity": 1}, "encoding": {"x": {"datum": 15.6, "axis": {"values": [0,5,10,15,20,25,30], "labelOverlap": false}, "title": "Months"}, "y": {"datum": 81.5, "axis": {"values": [0,10,20,30,40,50,60,70,80,90,100], "labelOverlap": false}, "title": "Overall  survival (%)"}}},
  {"data": {"values": [{}]}, "mark": {"type": "text"}, "encoding": {"x": {"datum": 17.1, "axis": {"values": [0,5,10,15,20,25,30], "labelOverlap": false}, "title": "Months"}, "y": {"datum": 93.65, "axis": {"values": [0,10,20,30,40,50,60,70,80,90,100], "labelOverlap": false}, "title": "Overall  survival (%)"}, "text": {"value": ["HER2 zero (n=20, [events = 14 ])", "Median 11.1 months"]}}},
  {"data": {"values": [{}]}, "mark": {"type": "text"}, "encoding": {"x": {"datum": 17.1, "axis": {"values": [0,5,10,15,20,25,30], "labelOverlap": false}, "title": "Months"}, "y": {"datum": 81.45, "axis": {"values": [0,10,20,30,40,50,60,70,80,90,100], "labelOverlap": false}, "title": "Overall  survival (%)"}, "text": {"value": ["HER2 low (n = 17, [events = 6])", "Median OS was not reached"]}}},
  {"data": {"values": [{}]}, "mark": {"type": "text"}, "encoding": {"x": {"datum": 17.1, "axis": {"values": [0,5,10,15,20,25,30], "labelOverlap": false}, "title": "Months"}, "y": {"datum": 71.4, "axis": {"values": [0,10,20,30,40,50,60,70,80,90,100], "labelOverlap": false}, "title": "Overall  survival (%)"}, "text": {"value": "Hazard ratio 2.44 (95% CI, 1.02 − 5.87)"}}},
  {"data": {"values": [{}]}, "mark": {"type": "text", "fontStyle": "italic"}, "encoding": {"x": {"datum": 2.1, "axis": {"values": [0,5,10,15,20,25,30], "labelOverlap": false}, "title": "Months"}, "y": {"datum": 14.8, "axis": {"values": [0,10,20,30,40,50,60,70,80,90,100], "labelOverlap": false}, "title": "Overall  survival (%)"}, "text": {"value": "p"}}},
  {"data": {"values": [{}]}, "mark": {"type": "text", "dx": 2.9}, "encoding": {"x": {"datum": 2.1, "axis": {"values": [0,5,10,15,20,25,30], "labelOverlap": false}, "title": "Months"}, "y": {"datum": 14.8, "axis": {"values": [0,10,20,30,40,50,60,70,80,90,100], "labelOverlap": false}, "title": "Overall  survival (%)"}, "text": {"value": "=0.054"}}}
 ]}
]
}
